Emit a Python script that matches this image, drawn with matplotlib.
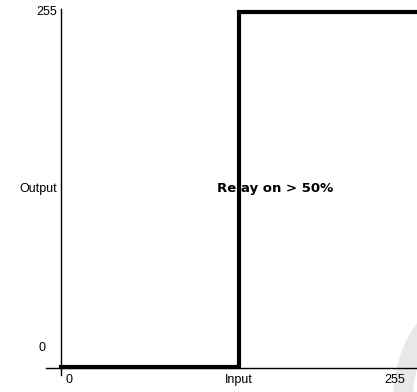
import matplotlib.pyplot as plt
from matplotlib.patches import Wedge

# relay step response: off below 50%, on above
input_pts = [0, 127.5, 127.5, 255]
output_pts = [0, 0, 255, 255]
x_ticks = [0, 255]
y_ticks = [0, 255]

plt.rcParams['font.family'] = ['Liberation Sans Narrow', 'Liberation Sans', 'DejaVu Sans']

W, H = 417, 392
fig = plt.figure(figsize=(W / 100, H / 100), dpi=100)

# faint watermark ring in the corner (inch units)
ring = Wedge((5.22, (H - 398) / 100), 1.29, 0, 360, width=0.2,
             transform=fig.dpi_scale_trans, facecolor='#e8e8e8',
             edgecolor='none', zorder=-5)
fig.patches.append(ring)

ax = fig.add_axes([61 / W, 25 / H, 355 / W, 355 / H])
ax.patch.set_alpha(0)
ax.set_xlim(0, 255)
ax.set_ylim(0, 255)
for s in ax.spines.values():
    s.set_visible(False)
ax.set_xticks([])
ax.set_yticks([])

# axis lines
ax.plot([-11, 260], [-0.7, -0.7], color='black', lw=1, clip_on=False)
ax.plot([0, 0], [-6, 257], color='black', lw=1, clip_on=False)

ax.plot(input_pts, output_pts, color='black', lw=3, solid_joinstyle='miter',
        clip_on=False)

fs = 9
ax.text(-3, y_ticks[1], str(y_ticks[1]), ha='right', va='center', fontsize=fs)
ax.text(-3, 128, 'Output', ha='right', va='center', fontsize=fs)
ax.text(-11, 14, str(y_ticks[0]), ha='right', va='center', fontsize=fs)
ax.text(x_ticks[0] + 3, -5, str(x_ticks[0]), ha='left', va='top', fontsize=fs)
ax.text(127.5, -5, 'Input', ha='center', va='top', fontsize=fs)
ax.text(240, -5, str(x_ticks[1]), ha='center', va='top', fontsize=fs)
ax.text(154, 128, 'Relay on > 50%', ha='center', va='center',
        fontsize=9.5, fontweight='bold', family='DejaVu Sans')

fig.savefig('out.png', dpi=100)
